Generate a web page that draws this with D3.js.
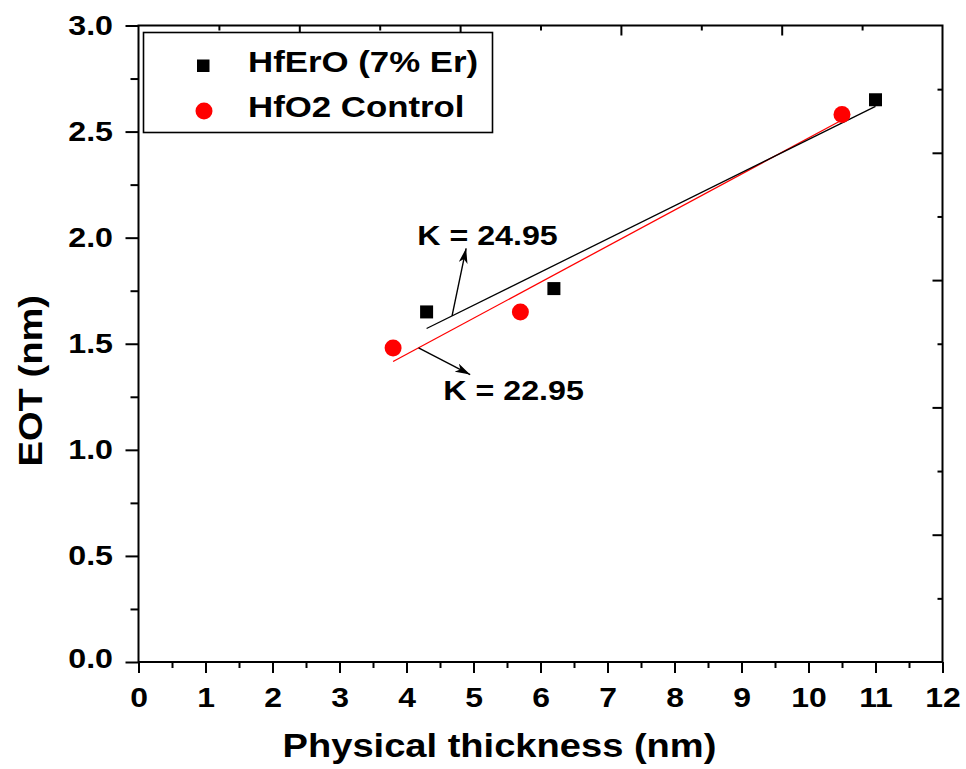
<!DOCTYPE html>
<html>
<head>
<meta charset="utf-8">
<script src="https://cdn.jsdelivr.net/npm/d3@7"></script>
<style>
  html, body { margin: 0; padding: 0; background: #fff; }
  svg text { font-family: "Liberation Sans", Arial, sans-serif; font-weight: bold; fill: #000; }
</style>
</head>
<body>
<svg id="chart" width="966" height="769"></svg>
<script>
// Physical thickness (nm) and EOT (nm) for each film
const thickErO  = [4.3, 6.2, 11.0];
const eotErO    = [1.65, 1.76, 2.65];
const thickHfO2 = [3.8, 5.7, 10.5];
const eotHfO2   = [1.48, 1.65, 2.58];

// Dielectric constants extracted from the linear fits (EOT = t * 3.9 / K + b)
const kValues = [24.95, 22.95];
const seriesNames = ["HfErO (7% Er)", "HfO2 Control"];

// Axis ticks
const xTickValues = d3.range(0, 13, 1);
const xMinorValues = d3.range(0.5, 12, 1);
const yTickValues = [0, 0.5, 1.0, 1.5, 2.0, 2.5, 3.0];
const yMinorValues = [0.25, 0.75, 1.25, 1.75, 2.25, 2.75];

const svg = d3.select("#chart");
const plot = { left: 138.5, right: 942.5, top: 25.5, bottom: 662 };

const x = d3.scaleLinear().domain([0, 12]).range([plot.left, plot.right]);
const y = d3.scaleLinear().domain([0, 3]).range([plot.bottom, plot.top]);
// the opposite axes carry their own unlabeled five-division scales
const xTop = d3.scaleLinear().domain([0, 5]).range([plot.left, plot.right]);
const yRight = d3.scaleLinear().domain([0, 5]).range([plot.bottom, plot.top]);

// widen glyphs horizontally, like the original export
function stretch(sel, f) {
  sel.each(function () {
    const w = this.getComputedTextLength();
    this.setAttribute("textLength", w * f);
    this.setAttribute("lengthAdjust", "spacingAndGlyphs");
  });
}

function styleAxis(g) {
  g.select(".domain").remove();
  g.selectAll(".tick line").attr("stroke", "#000").attr("stroke-width", 2);
}

function styleTickText(sel) {
  sel.style("font-size", "28px")
    .style("font-family", "'Liberation Sans', Arial, sans-serif")
    .style("font-weight", "bold").attr("fill", "#000");
}

// bottom axis
const gxMinor = svg.append("g").attr("transform", `translate(0,${plot.bottom})`)
  .call(d3.axisBottom(x).tickValues(xMinorValues).tickSize(6).tickFormat(""));
styleAxis(gxMinor);
const gx = svg.append("g").attr("transform", `translate(0,${plot.bottom})`)
  .call(d3.axisBottom(x).tickValues(xTickValues).tickSize(11).tickFormat(d3.format("d")));
styleAxis(gx);
gx.selectAll(".tick text").attr("y", 45).attr("dy", null).call(styleTickText);
stretch(gx.selectAll(".tick text"), 1.14);

// left axis
const gyMinor = svg.append("g").attr("transform", `translate(${plot.left},0)`)
  .call(d3.axisLeft(y).tickValues(yMinorValues).tickSize(8).tickFormat(""));
styleAxis(gyMinor);
const gy = svg.append("g").attr("transform", `translate(${plot.left},0)`)
  .call(d3.axisLeft(y).tickValues(yTickValues).tickSize(13).tickFormat(d3.format(".1f")));
styleAxis(gy);
gy.selectAll(".tick text").attr("x", -25.5).attr("dy", null)
  .attr("y", d => d === 0 ? 5 : 8.5).call(styleTickText);
stretch(gy.selectAll(".tick text"), 1.15);

// top axis, ticks inward
const gt = svg.append("g").attr("transform", `translate(0,${plot.top})`)
  .call(d3.axisBottom(xTop).tickValues(d3.range(1, 5)).tickSize(10).tickFormat(""));
styleAxis(gt);
const gtMinor = svg.append("g").attr("transform", `translate(0,${plot.top})`)
  .call(d3.axisBottom(xTop).tickValues(d3.range(0.5, 5, 1)).tickSize(5).tickFormat(""));
styleAxis(gtMinor);

// right axis, ticks inward
const gr = svg.append("g").attr("transform", `translate(${plot.right},0)`)
  .call(d3.axisLeft(yRight).tickValues(d3.range(1, 5)).tickSize(10).tickFormat(""));
styleAxis(gr);
const grMinor = svg.append("g").attr("transform", `translate(${plot.right},0)`)
  .call(d3.axisLeft(yRight).tickValues(d3.range(0.5, 5, 1)).tickSize(5).tickFormat(""));
styleAxis(grMinor);

// frame
svg.append("rect")
  .attr("x", plot.left).attr("y", plot.top)
  .attr("width", plot.right - plot.left).attr("height", plot.bottom - plot.top)
  .attr("fill", "none").attr("stroke", "#000").attr("stroke-width", 2);

// axis titles
const xt = svg.append("text").attr("x", (plot.left + plot.right) / 2 - 41).attr("y", 757)
  .attr("text-anchor", "middle").style("font-size", "34px")
  .text("Physical thickness (nm)");
stretch(xt, 1.12);
const yt = svg.append("text")
  .attr("transform", `translate(42,${(plot.top + plot.bottom) / 2 + 37}) rotate(-90)`)
  .attr("text-anchor", "middle").style("font-size", "34px")
  .text("EOT (nm)");
stretch(yt, 1.12);

// linear fits with slope 3.9/K through the centroid of each series
function fitLine(xs, ys, k) {
  const slope = 3.9 / k;
  const b = d3.mean(ys) - slope * d3.mean(xs);
  const x0 = d3.min(xs), x1 = d3.max(xs);
  return { slope, b, pts: [[x0, b + slope * x0], [x1, b + slope * x1]] };
}
const fitErO = fitLine(thickErO, eotErO, kValues[0]);
const fitHfO2 = fitLine(thickHfO2, eotHfO2, kValues[1]);

const line = d3.line().x(d => x(d[0])).y(d => y(d[1]));
svg.append("path").datum(fitHfO2.pts).attr("d", line)
  .attr("fill", "none").attr("stroke", "#ff0000").attr("stroke-width", 1.3);
svg.append("path").datum(fitErO.pts).attr("d", line)
  .attr("fill", "none").attr("stroke", "#000").attr("stroke-width", 1.3);

// data points
const ptsErO = thickErO.map((t, i) => [t, eotErO[i]]);
const ptsHfO2 = thickHfO2.map((t, i) => [t, eotHfO2[i]]);
svg.append("g").selectAll("circle").data(ptsHfO2).join("circle")
  .attr("cx", d => x(d[0])).attr("cy", d => y(d[1])).attr("r", 8.5)
  .attr("fill", "#ff0000");
svg.append("g").selectAll("rect").data(ptsErO).join("rect")
  .attr("x", d => x(d[0]) - 6.5).attr("y", d => y(d[1]) - 6.5)
  .attr("width", 13).attr("height", 13).attr("fill", "#000");

// annotation arrows
const defs = svg.append("defs");
defs.append("marker").attr("id", "arrow").attr("viewBox", "0 0 15 9")
  .attr("refX", 15).attr("refY", 4.5).attr("markerWidth", 15).attr("markerHeight", 9)
  .attr("markerUnits", "userSpaceOnUse").attr("orient", "auto")
  .append("path").attr("d", "M0,0 L15,4.5 L0,9 L4,4.5 Z").attr("fill", "#000");

const arrowErO = [[4.68, fitErO.b + fitErO.slope * 4.68], [4.89, 1.95]];
const arrowHfO2 = [[4.18, fitHfO2.b + fitHfO2.slope * 4.18], [4.95, 1.355]];
[arrowErO, arrowHfO2].forEach(a => {
  svg.append("line")
    .attr("x1", x(a[0][0])).attr("y1", y(a[0][1]))
    .attr("x2", x(a[1][0])).attr("y2", y(a[1][1]))
    .attr("stroke", "#000").attr("stroke-width", 1.4)
    .attr("marker-end", "url(#arrow)");
});

const kFmt = d3.format(".2f");
const k1 = svg.append("text").attr("x", x(4.16)).attr("y", y(1.965))
  .style("font-size", "28px").text(`K = ${kFmt(kValues[0])}`);
stretch(k1, 1.15);
const k2 = svg.append("text").attr("x", x(4.55)).attr("y", y(1.235))
  .style("font-size", "28px").text(`K = ${kFmt(kValues[1])}`);
stretch(k2, 1.15);

// legend
const lg = svg.append("g");
lg.append("rect").attr("x", 143.5).attr("y", 32.5).attr("width", 349).attr("height", 100)
  .attr("fill", "#fff").attr("stroke", "#000").attr("stroke-width", 1.6);
lg.append("rect").attr("x", 197).attr("y", 59.5).attr("width", 12.5).attr("height", 12.5)
  .attr("fill", "#000");
lg.append("circle").attr("cx", 204).attr("cy", 111).attr("r", 8.5).attr("fill", "#ff0000");
const lt = lg.selectAll("text.leg").data(seriesNames).join("text").attr("class", "leg")
  .attr("x", 248).attr("y", (d, i) => 72 + i * 45)
  .style("font-size", "29px").text(d => d);
stretch(lt, 1.2);
</script>
</body>
</html>
